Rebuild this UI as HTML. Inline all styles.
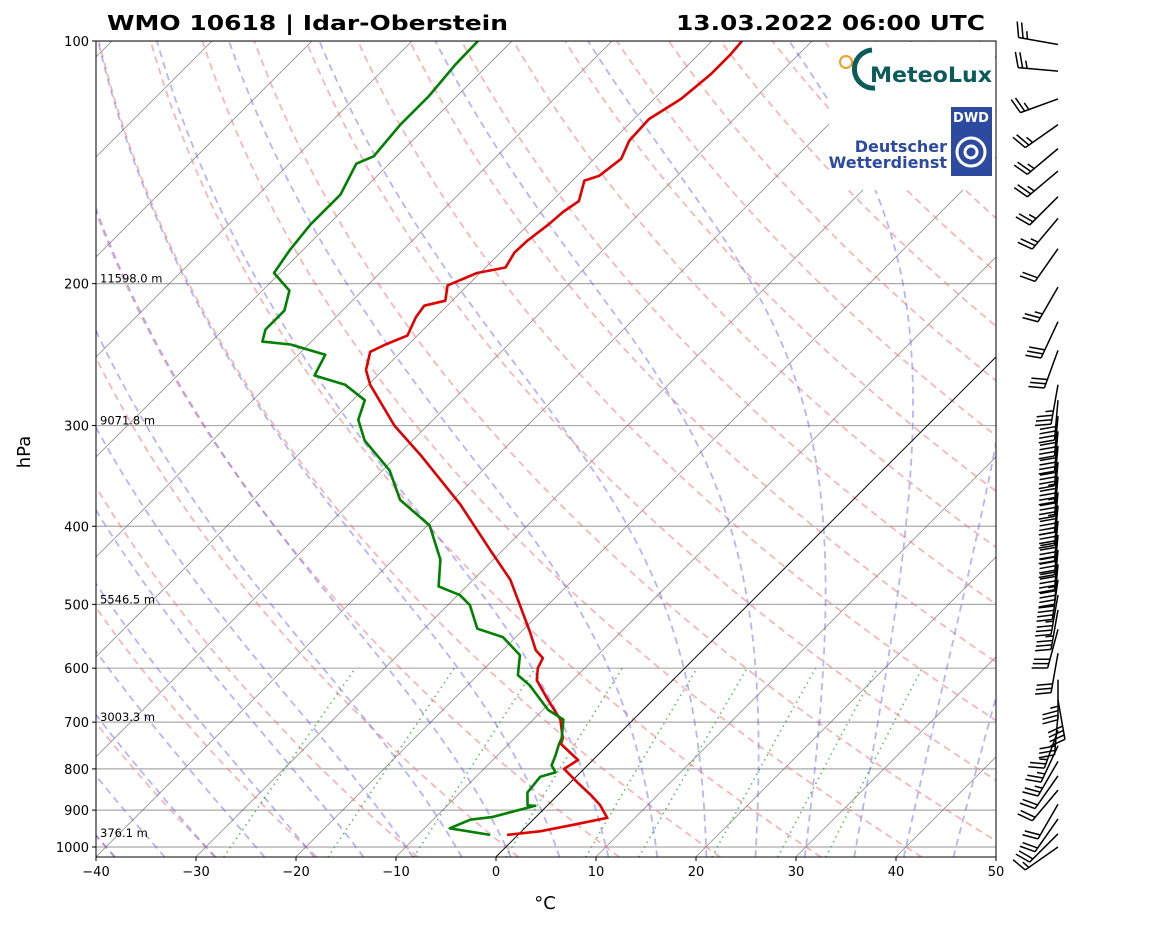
<!DOCTYPE html>
<html><head><meta charset="utf-8"><style>
html,body{margin:0;padding:0;background:#fff;}
svg text{font-family:"DejaVu Sans","Liberation Sans",sans-serif;}
</style></head><body>
<svg id="sk" width="1160" height="925" viewBox="0 0 1160 925" xmlns="http://www.w3.org/2000/svg">
<defs><clipPath id="pc"><rect x="96" y="41" width="900" height="816"/></clipPath></defs>
<rect width="1160" height="925" fill="#fff"/>
<g id="bg" clip-path="url(#pc)"></g>
<g id="prof" clip-path="url(#pc)"></g>
<g id="logos">
  <rect x="829" y="42" width="166" height="80" fill="#fff"/>
  <rect x="829" y="100" width="166" height="90" fill="#fff"/>
  <g>
    <circle cx="846" cy="62" r="6" fill="none" stroke="#f0a020" stroke-width="2"/>
    <path d="M872 50 A15 15 0 1 0 875 88" fill="none" stroke="#0b5b5b" stroke-width="5"/>
    <text x="870" y="82" font-size="21" font-weight="bold" fill="#0b5b5b" textLength="122" lengthAdjust="spacingAndGlyphs">MeteoLux</text>
  </g>
  <g>
    <rect x="951" y="107" width="41" height="69" fill="#2b4aa0"/>
    <text x="971" y="122" font-size="13" font-weight="bold" fill="#fff" text-anchor="middle">DWD</text>
    <circle cx="971" cy="152" r="14" fill="none" stroke="#fff" stroke-width="3"/>
    <circle cx="971" cy="152" r="6" fill="none" stroke="#fff" stroke-width="3"/>
    <text x="947" y="152" font-size="16" font-weight="bold" fill="#2b4aa0" text-anchor="end">Deutscher</text>
    <text x="947" y="168" font-size="16" font-weight="bold" fill="#2b4aa0" text-anchor="end">Wetterdienst</text>
  </g>
</g>
<rect x="96" y="41" width="900" height="816" fill="none" stroke="#000" stroke-width="1"/>
<g id="axes"></g>
<g id="barbs"></g>
<text x="107" y="30" font-size="20" font-weight="bold" textLength="401" lengthAdjust="spacingAndGlyphs">WMO 10618 | Idar-Oberstein</text>
<text x="676" y="30" font-size="20" font-weight="bold" textLength="309" lengthAdjust="spacingAndGlyphs">13.03.2022 06:00 UTC</text>
<text x="545" y="909" font-size="18" text-anchor="middle">°C</text>
<text x="30" y="452" font-size="18" text-anchor="middle" transform="rotate(-90 30 452)">hPa</text>
</svg>
<script>
// ---- data ----
const tempP = [966,956,940,925,920,887,866,833,800,780,745,733,695,657,621,600,583,570,541,501,466,428,376,326,300,267,256,243,238,232,220,213,210,201,194,191,183,177,169,163,158,149,147,140,133,125,118,110,104,100];
const tempT = [-1.1,1.9,4.3,6.5,7.2,5.2,3.6,0.8,-2.0,-1.5,-4.8,-5.2,-7.3,-10.5,-13.6,-14.7,-15.2,-16.7,-19.1,-22.8,-26.3,-31.3,-38.8,-47.8,-53.3,-59.8,-61.7,-63.1,-62.3,-61,-62,-62.3,-60.7,-62,-60.3,-58,-58.6,-58.5,-58,-57.8,-57.3,-58.8,-57.8,-57.3,-58.3,-58.5,-57.3,-56.8,-56.8,-57];
const dewP = [966,948,925,918,889,888,856,818,808,792,770,745,733,695,676,630,612,578,549,536,501,487,475,440,399,371,341,313,295,279,267,260,245,238,236,228,216,204,194,182,169,155,142,139,127,117,107,100];
const dewT = [-2.8,-7.5,-6.3,-4.4,-1.2,-2.0,-3.3,-3.6,-2.5,-3.6,-4.2,-5.0,-5.3,-7.0,-9.5,-13.8,-16,-17.8,-21.3,-24.7,-27.8,-29.8,-32.8,-35.3,-39.8,-45.3,-49.3,-54.8,-57.5,-58.8,-62.3,-66.3,-67.3,-71.8,-74.9,-75.8,-75.8,-77.3,-80.6,-81.3,-81.8,-81.8,-83.3,-82.3,-82.8,-82.8,-83.3,-83.4];
const pTicks = [100,200,300,400,500,600,700,800,900,1000];
const tTicks = [-40,-30,-20,-10,0,10,20,30,40,50];
const heightP = [200,300,500,700,975];
const heightLabels = ["11598.0 m","9071.8 m","5546.5 m","3003.3 m","376.1 m"];
const barbP = [101,109,118,127,136,145,156,166,181,202,223,242,267,279,292,305,318,333,347,363,377,394,410,428,446,466,487,508,537,575,620,657,686,717,749,783,816,850,885,923,963,1000];
const barbDir = [280,275,250,235,230,230,225,220,215,210,205,200,190,185,185,185,185,185,185,185,185,185,185,185,185,188,190,190,195,190,180,170,185,200,205,210,215,220,210,215,225,235];
const barbSpd = [25,25,25,25,25,25,25,25,20,25,30,30,35,40,40,40,40,45,45,45,45,50,50,50,45,40,35,35,30,30,35,40,30,25,25,25,20,20,20,20,20,15];
// ---- axes functions ----
const Y0=41, DEC=806, XB=96, YB=857;
function yP(p){return Y0+DEC*Math.log10(p/100);}
function xT(t,p){return XB+(t+40)*10+(YB-yP(p));}
const NS="http://www.w3.org/2000/svg";
function mk(tag,attrs,parent){const e=document.createElementNS(NS,tag);for(const k in attrs)e.setAttribute(k,attrs[k]);parent.appendChild(e);return e;}
const bg=document.getElementById('bg'), prof=document.getElementById('prof'), axes=document.getElementById('axes'), barbs=document.getElementById('barbs');
const pBot=1029.5;
pTicks.forEach(p=>{const l=mk('line',{x1:96,x2:996,y1:yP(p),y2:yP(p),stroke:'#aaa','stroke-width':1.2},bg);

});
for(let t=-150;t<=50;t+=10){const l=mk('line',{x1:xT(t,pBot),y1:YB,x2:xT(t,100),y2:Y0,stroke:'#555','stroke-width':0.8,'stroke-opacity':0.7},bg);

}
function polyPts(arrP,fn){return arrP.map(p=>xT(fn(p),p).toFixed(1)+','+yP(p).toFixed(1)).join(' ');}
const levs=[];for(let i=0;i<=120;i++){levs.push(pBot*Math.pow(100/pBot,i/120));}
for(let th=-80;th<=200;th+=10){const pl=mk('polyline',{points:polyPts(levs,p=>(th+273.15)*Math.pow(p/1000,0.2857)-273.15),fill:'none',stroke:'#f07070','stroke-opacity':0.5,'stroke-width':1.8,'stroke-dasharray':'7,5'},bg);

}
function es(T){return 6.112*Math.exp(17.67*T/(T+243.5));}
function dTdp(p,Tk){const Rd=287.04,Cp=1005.7,Lv=2.501e6,eps=0.622;const rs=eps*es(Tk-273.15)/(p-es(Tk-273.15));
return (1/p)*(Rd*Tk+Lv*rs)/(Cp+Lv*Lv*rs*eps/(Rd*Tk*Tk));}
function moist(t0){let T=t0+273.15,p=1000;const pts=[[p,T]];
let h=-2;while(p>100){const k1=dTdp(p,T),k2=dTdp(p+h/2,T+h/2*k1),k3=dTdp(p+h/2,T+h/2*k2),k4=dTdp(p+h,T+h*k3);T+=h/6*(k1+2*k2+2*k3+k4);p+=h;pts.push([p,T]);}
T=t0+273.15;p=1000;const dn=[];h=2;while(p<pBot){const k1=dTdp(p,T),k2=dTdp(p+h/2,T+h/2*k1),k3=dTdp(p+h/2,T+h/2*k2),k4=dTdp(p+h,T+h*k3);T+=h/6*(k1+2*k2+2*k3+k4);p+=h;dn.unshift([p,T]);}
return dn.concat(pts);}
const moistT0=[-50,-45,-40,-35,-30,-25,-20,-15,-10,-5,0,5,10,15,20,25,30,35,40,45];
moistT0.forEach(t0=>{const pts=moist(t0).filter((d,i)=>i%3===0).map(d=>xT(d[1]-273.15,d[0]).toFixed(1)+','+yP(d[0]).toFixed(1)).join(' ');
const pl=mk('polyline',{points:pts,fill:'none',stroke:'#5a5af0','stroke-opacity':0.45,'stroke-width':1.8,'stroke-dasharray':'7,5'},bg);

});
const mixW=[0.0004,0.001,0.002,0.004,0.007,0.01,0.016,0.024,0.032];
mixW.forEach(w=>{const lv=[];for(let i=0;i<=20;i++)lv.push(pBot*Math.pow(600/pBot,i/20));
const pts=polyPts(lv,p=>{const e=p*w/(0.622+w);const a=Math.log(e/6.112);return 243.5*a/(17.67-a);});
const pl=mk('polyline',{points:pts,fill:'none',stroke:'#2a9a2a','stroke-opacity':0.7,'stroke-width':1.6,'stroke-dasharray':'1.5,4'},bg);

});
const z=mk('line',{x1:xT(0,pBot),y1:YB,x2:xT(0,100),y2:Y0,stroke:'#000','stroke-width':0.9},bg);


const tl=mk('polyline',{points:tempP.map((p,i)=>xT(tempT[i],p).toFixed(1)+','+yP(p).toFixed(1)).join(' '),fill:'none',stroke:'#e00000','stroke-width':2.6,'stroke-linejoin':'round'},prof);


const dl=mk('polyline',{points:dewP.map((p,i)=>xT(dewT[i],p).toFixed(1)+','+yP(p).toFixed(1)).join(' '),fill:'none',stroke:'#008000','stroke-width':2.6,'stroke-linejoin':'round'},prof);


pTicks.forEach(p=>{const y=yP(p);mk('line',{x1:92,x2:96,y1:y,y2:y,stroke:'#000'},axes);
const t=mk('text',{x:89,y:y+5,'font-size':13,'text-anchor':'end'},axes);t.textContent=p;

});
tTicks.forEach(v=>{const x=XB+(v+40)*10;mk('line',{x1:x,x2:x,y1:YB,y2:YB+4,stroke:'#000'},axes);
const t=mk('text',{x:x,y:YB+19,'font-size':13,'text-anchor':'middle'},axes);t.textContent=(v<0?'\u2212'+(-v):v);

});
heightP.forEach((p,i)=>{const t=mk('text',{x:100,y:yP(p)-1,'font-size':11.5},axes);t.textContent=heightLabels[i];

});
barbP.forEach((p,i)=>{const bx=1058,by=yP(p);const a=barbDir[i]*Math.PI/180;const L=40;
const dx=Math.sin(a),dy=-Math.cos(a);const tx=bx+dx*L,ty=by+dy*L;
const g=mk('g',{},barbs);


mk('line',{x1:bx,y1:by,x2:tx,y2:ty,stroke:'#000','stroke-width':1.5},g);
let s=barbSpd[i];let k=0;const b=(barbDir[i]+75)*Math.PI/180;const bdx=Math.sin(b),bdy=-Math.cos(b);
while(s>=5){const full=s>=10;const len=full?16:8;const sx=tx-dx*k*4.5,sy=ty-dy*k*4.5;
mk('line',{x1:sx,y1:sy,x2:sx+bdx*len,y2:sy+bdy*len,stroke:'#000','stroke-width':1.5},g);s-=full?10:5;k++;}
});
</script>
</body></html>
